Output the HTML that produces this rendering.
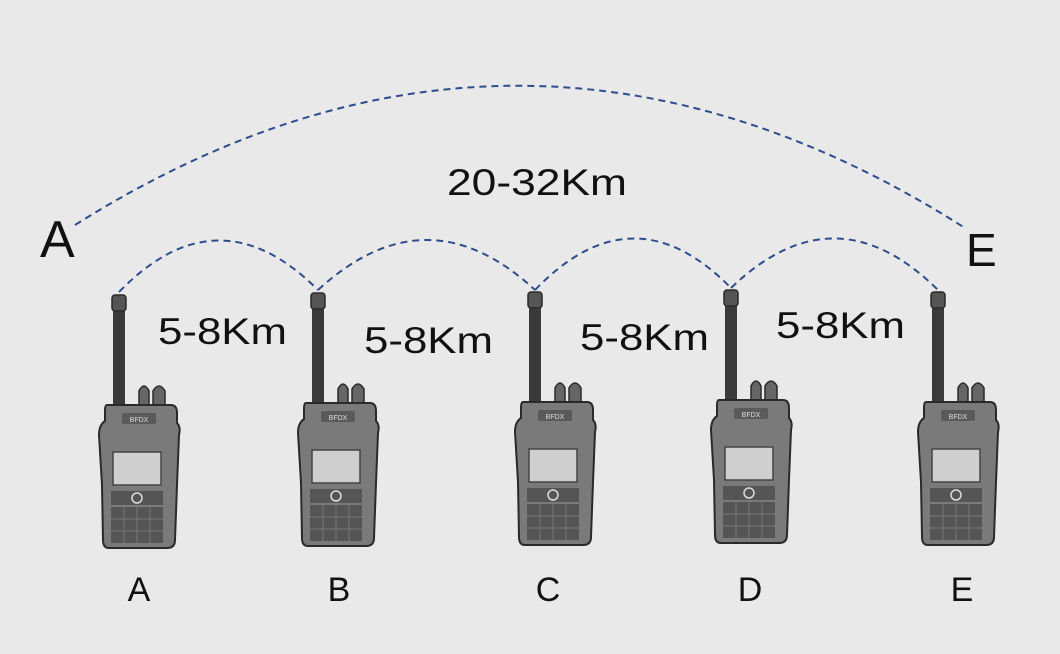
<!DOCTYPE html>
<html><head><style>
html,body{margin:0;padding:0;background:#e9e9e9;}
svg{display:block;}
text{font-family:"Liberation Sans","DejaVu Sans",sans-serif;fill:#111;}
</style></head><body>
<svg width="1060" height="654" viewBox="0 0 1060 654" xmlns="http://www.w3.org/2000/svg">
<defs>
<g id="r">
  <rect x="-6" y="12" width="12" height="100" rx="3" fill="#3a3a3a"/>
  <rect x="-7" y="0" width="14" height="16" rx="3" fill="#555" stroke="#2a2a2a" stroke-width="1.5"/>
  <path d="M20 112 L20 96 Q25 86 30 96 L30 112Z" fill="#666" stroke="#2a2a2a" stroke-width="1.5"/>
  <path d="M34 112 L34 96 Q40 86 46 96 L46 112Z" fill="#666" stroke="#2a2a2a" stroke-width="1.5"/>
  <path d="M-12 110 L52 110 Q58 110 58 118 L58 128 Q62 132 60 140 L58 190 L56 245 Q56 253 48 253 L-10 253 Q-16 253 -16 245 L-17 190 L-20 140 Q-20 130 -14 126 L-14 116 Q-14 110 -12 110Z" fill="#7a7a7a" stroke="#2a2a2a" stroke-width="2"/>
  <rect x="3" y="118" width="34" height="11" rx="2" fill="#5a5a5a"/>
  <text x="20" y="127" font-size="7" text-anchor="middle" style="fill:#ddd">BFDX</text>
  <rect x="-6" y="157" width="48" height="33" fill="#cfcfcf" stroke="#444" stroke-width="1.5"/>
  <rect x="-8" y="196" width="52" height="14" fill="#555"/>
  <circle cx="18" cy="203" r="5" fill="none" stroke="#ddd" stroke-width="1.5"/>
  <rect x="-8" y="212" width="52" height="36" fill="#555"/>
  <path d="M-8 224H44M-8 236H44M5 212V248M18 212V248M31 212V248" stroke="#777" stroke-width="1"/>
</g>
</defs>
<g fill="none" stroke="#2d4d8c" stroke-width="2" stroke-dasharray="7,5">
  <path d="M75 225 Q520 -55 965 228"/>
  <path d="M119 292 Q218 190 318 290"/>
  <path d="M318 290 Q427 190 535 290"/>
  <path d="M535 290 Q633 188 731 288"/>
  <path d="M731 288 Q835 188 938 290"/>
</g>
<use href="#r" x="119" y="295"/>
<use href="#r" x="318" y="293"/>
<use href="#r" x="535" y="292"/>
<use href="#r" x="731" y="290"/>
<use href="#r" x="938" y="292"/>
<text x="40" y="257" font-size="52">A</text>
<text x="966" y="266" font-size="46">E</text>
<text x="447" y="195" font-size="37" textLength="180" lengthAdjust="spacingAndGlyphs">20-32Km</text>
<text x="158" y="344" font-size="37" textLength="129" lengthAdjust="spacingAndGlyphs">5-8Km</text>
<text x="364" y="353" font-size="37" textLength="129" lengthAdjust="spacingAndGlyphs">5-8Km</text>
<text x="580" y="350" font-size="37" textLength="129" lengthAdjust="spacingAndGlyphs">5-8Km</text>
<text x="776" y="338" font-size="37" textLength="129" lengthAdjust="spacingAndGlyphs">5-8Km</text>
<text x="139" y="601" font-size="34" text-anchor="middle">A</text>
<text x="339" y="601" font-size="34" text-anchor="middle">B</text>
<text x="548" y="601" font-size="34" text-anchor="middle">C</text>
<text x="750" y="601" font-size="34" text-anchor="middle">D</text>
<text x="962" y="601" font-size="34" text-anchor="middle">E</text>
</svg>
</body></html>
